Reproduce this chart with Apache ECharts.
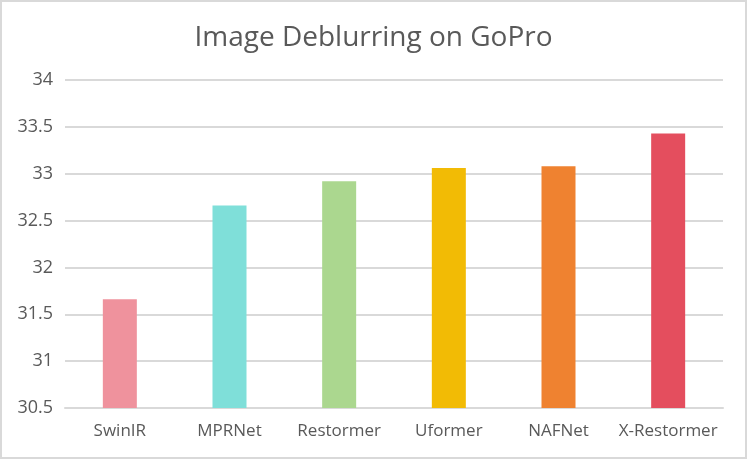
<!DOCTYPE html>
<html>
<head>
<meta charset="utf-8">
<script src="https://cdn.jsdelivr.net/npm/echarts@6/dist/echarts.min.js"></script>
<style>
  html, body { margin: 0; padding: 0; background: #fff; }
  #MyChart { width: 743px; height: 455px; border: 2px solid #d9d9d9; }
</style>
</head>
<body>
<div id="MyChart"></div>
<script>
// data
var models = ['SwinIR', 'MPRNet', 'Restormer', 'Uformer', 'NAFNet', 'X-Restormer'];
var psnr = [31.66, 32.66, 32.92, 33.06, 33.08, 33.43];
var barColors = ['#EF929D', '#7FDFD9', '#ABD78F', '#F2BB05', '#EF8230', '#E44E5E'];

var myChart = echarts.init(document.getElementById('MyChart'));
var option = {
    animation: false,
    title: {
        left: 'center',
        top: 17,
        text: 'Image Deblurring on GoPro',
        textStyle: {
            color: '#595959',
            fontSize: 28,
            fontWeight: 'normal',
            fontFamily: 'Open Sans'
        }
    },
    grid: {
        left: 63,
        right: 22,
        top: 78,
        bottom: 49
    },
    xAxis: {
        type: 'category',
        data: models,
        axisLine: { show: true, lineStyle: { color: '#d9d9d9', width: 2 } },
        axisTick: { show: false },
        axisLabel: {
            interval: 0,
            color: '#595959',
            fontSize: 17,
            fontFamily: 'Open Sans',
            margin: 15
        }
    },
    yAxis: {
        type: 'value',
        min: 30.5,
        max: 34,
        interval: 0.5,
        axisLine: { show: false },
        axisTick: { show: false },
        splitLine: { lineStyle: { color: '#d9d9d9', width: 2 } },
        axisLabel: {
            color: '#595959',
            fontSize: 18,
            fontFamily: 'Open Sans',
            margin: 12
        }
    },
    series: [{
        type: 'bar',
        barWidth: 34,
        data: psnr.map(function (v, i) {
            return { value: v, itemStyle: { color: barColors[i] } };
        })
    }]
};
myChart.setOption(option);
</script>
</body>
</html>
